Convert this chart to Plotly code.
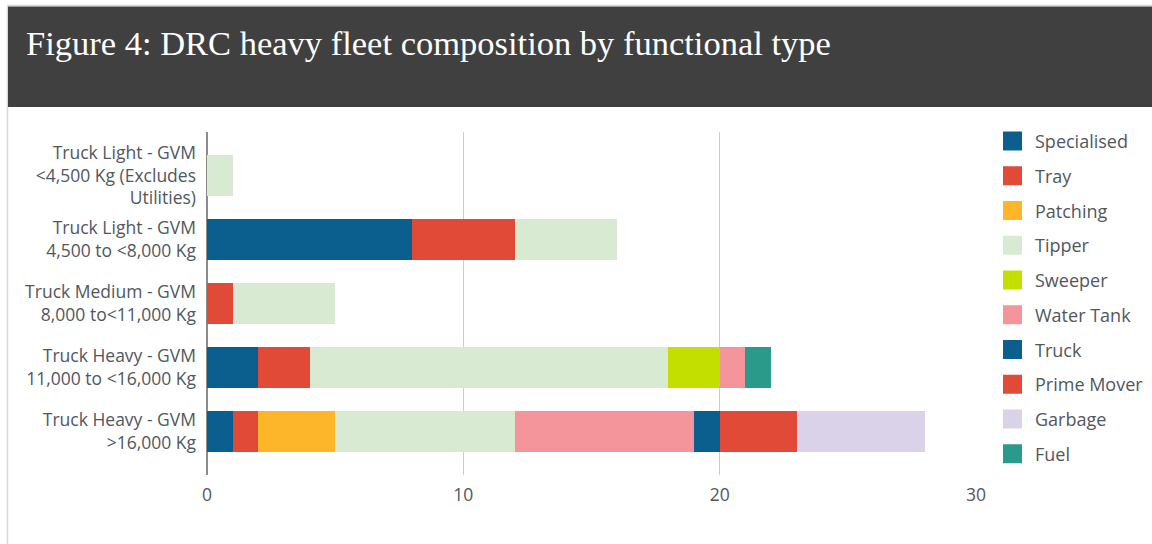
import plotly.graph_objects as go

# Vehicle classes (top to bottom)
categories = [
    "Truck Light - GVM<br><4,500 Kg (Excludes<br>Utilities)",
    "Truck Light - GVM<br>4,500 to <8,000 Kg",
    "Truck Medium - GVM<br>8,000 to<11,000 Kg",
    "Truck Heavy - GVM<br>11,000 to <16,000 Kg",
    "Truck Heavy - GVM<br>>16,000 Kg",
]

# Functional types, in stacking order
series_names = ["Specialised", "Tray", "Patching", "Tipper", "Sweeper",
                "Water Tank", "Truck", "Prime Mover", "Garbage", "Fuel"]
series_colors = ["#0a5f8f", "#e04a37", "#fdb52a", "#d9ead3", "#c2df00",
                 "#f4959b", "#0a5f8f", "#e04a37", "#d9d2e9", "#2a9a8a"]

# Vehicle counts per class for each functional type
specialised = [0, 8, 0, 2, 1]
tray        = [0, 4, 1, 2, 1]
patching    = [0, 0, 0, 0, 3]
tipper      = [1, 4, 4, 14, 7]
sweeper     = [0, 0, 0, 2, 0]
water_tank  = [0, 0, 0, 1, 7]
truck       = [0, 0, 0, 0, 1]
prime_mover = [0, 0, 0, 0, 3]
garbage     = [0, 0, 0, 0, 5]
fuel        = [0, 0, 0, 1, 0]

series_values = [specialised, tray, patching, tipper, sweeper,
                 water_tank, truck, prime_mover, garbage, fuel]

x_ticks = [0, 10, 20, 30]

W, H = 1152, 544
FONT = "Open Sans, Roboto, Arial, sans-serif"
TEXT = "#51575e"


def px(x):
    return x / W


def py(y):
    return 1 - y / H


fig = go.Figure()
for name, color, vals in zip(series_names, series_colors, series_values):
    fig.add_trace(go.Bar(
        y=categories, x=vals, name=name, orientation="h",
        marker=dict(color=color, line=dict(width=0)),
        width=0.64, showlegend=False,
    ))

shapes = [
    # page frame lines
    dict(type="line", xref="paper", yref="paper", x0=px(7.5), x1=px(7.5),
         y0=0, y1=py(6), line=dict(color="#d9d9d9", width=1.5), layer="below"),
    dict(type="line", xref="paper", yref="paper", x0=px(7), x1=1,
         y0=py(5.5), y1=py(5.5), line=dict(color="#d9d9d9", width=1.5), layer="below"),
    # title band
    dict(type="rect", xref="paper", yref="paper", x0=px(8), x1=1.01,
         y0=py(107), y1=py(6.5), fillcolor="#404040", line=dict(width=0), layer="below"),
]

annotations = [
    dict(text="Figure 4: DRC heavy fleet composition by functional type",
         xref="paper", yref="paper", x=px(24), y=py(43), xanchor="left", yanchor="middle",
         showarrow=False, font=dict(family="Liberation Serif, Times New Roman, serif",
                                    size=34.5, color="#ffffff")),
]

# legend entries
for i, (name, color) in enumerate(zip(series_names, series_colors)):
    cy = 141 + 34.75 * i
    shapes.append(dict(type="rect", xref="paper", yref="paper",
                       x0=px(1003), x1=px(1022), y0=py(cy + 9.5), y1=py(cy - 9.5),
                       fillcolor=color, line=dict(width=0)))
    annotations.append(dict(text=name, xref="paper", yref="paper",
                            x=px(1033), y=py(cy), xanchor="left", yanchor="middle",
                            showarrow=False, font=dict(family=FONT, size=18, color=TEXT)))

fig.update_layout(
    width=W, height=H,
    margin=dict(l=0, r=0, t=0, b=0),
    paper_bgcolor="#ffffff", plot_bgcolor="#ffffff",
    barmode="stack",
    showlegend=False,
    shapes=shapes,
    annotations=annotations,
    font=dict(family=FONT, color=TEXT),
    xaxis=dict(
        domain=[px(207), px(976)], range=[0, 30], tickvals=x_ticks,
        showgrid=True, gridcolor="#cccccc", gridwidth=1,
        zeroline=True, zerolinecolor="#8c8c8c", zerolinewidth=2,
        showline=False, ticks="", ticklabelstandoff=7,
        tickfont=dict(family=FONT, size=17.5, color=TEXT), automargin=False,
        fixedrange=True,
    ),
    yaxis=dict(
        domain=[py(475), py(132)], type="category",
        range=[4.68, -0.68], showgrid=False, zeroline=False, showline=False,
        ticks="", ticklabelstandoff=10,
        tickfont=dict(family=FONT, size=17.5, color=TEXT), automargin=False,
        fixedrange=True,
    ),
)

fig.write_html("out.html")
